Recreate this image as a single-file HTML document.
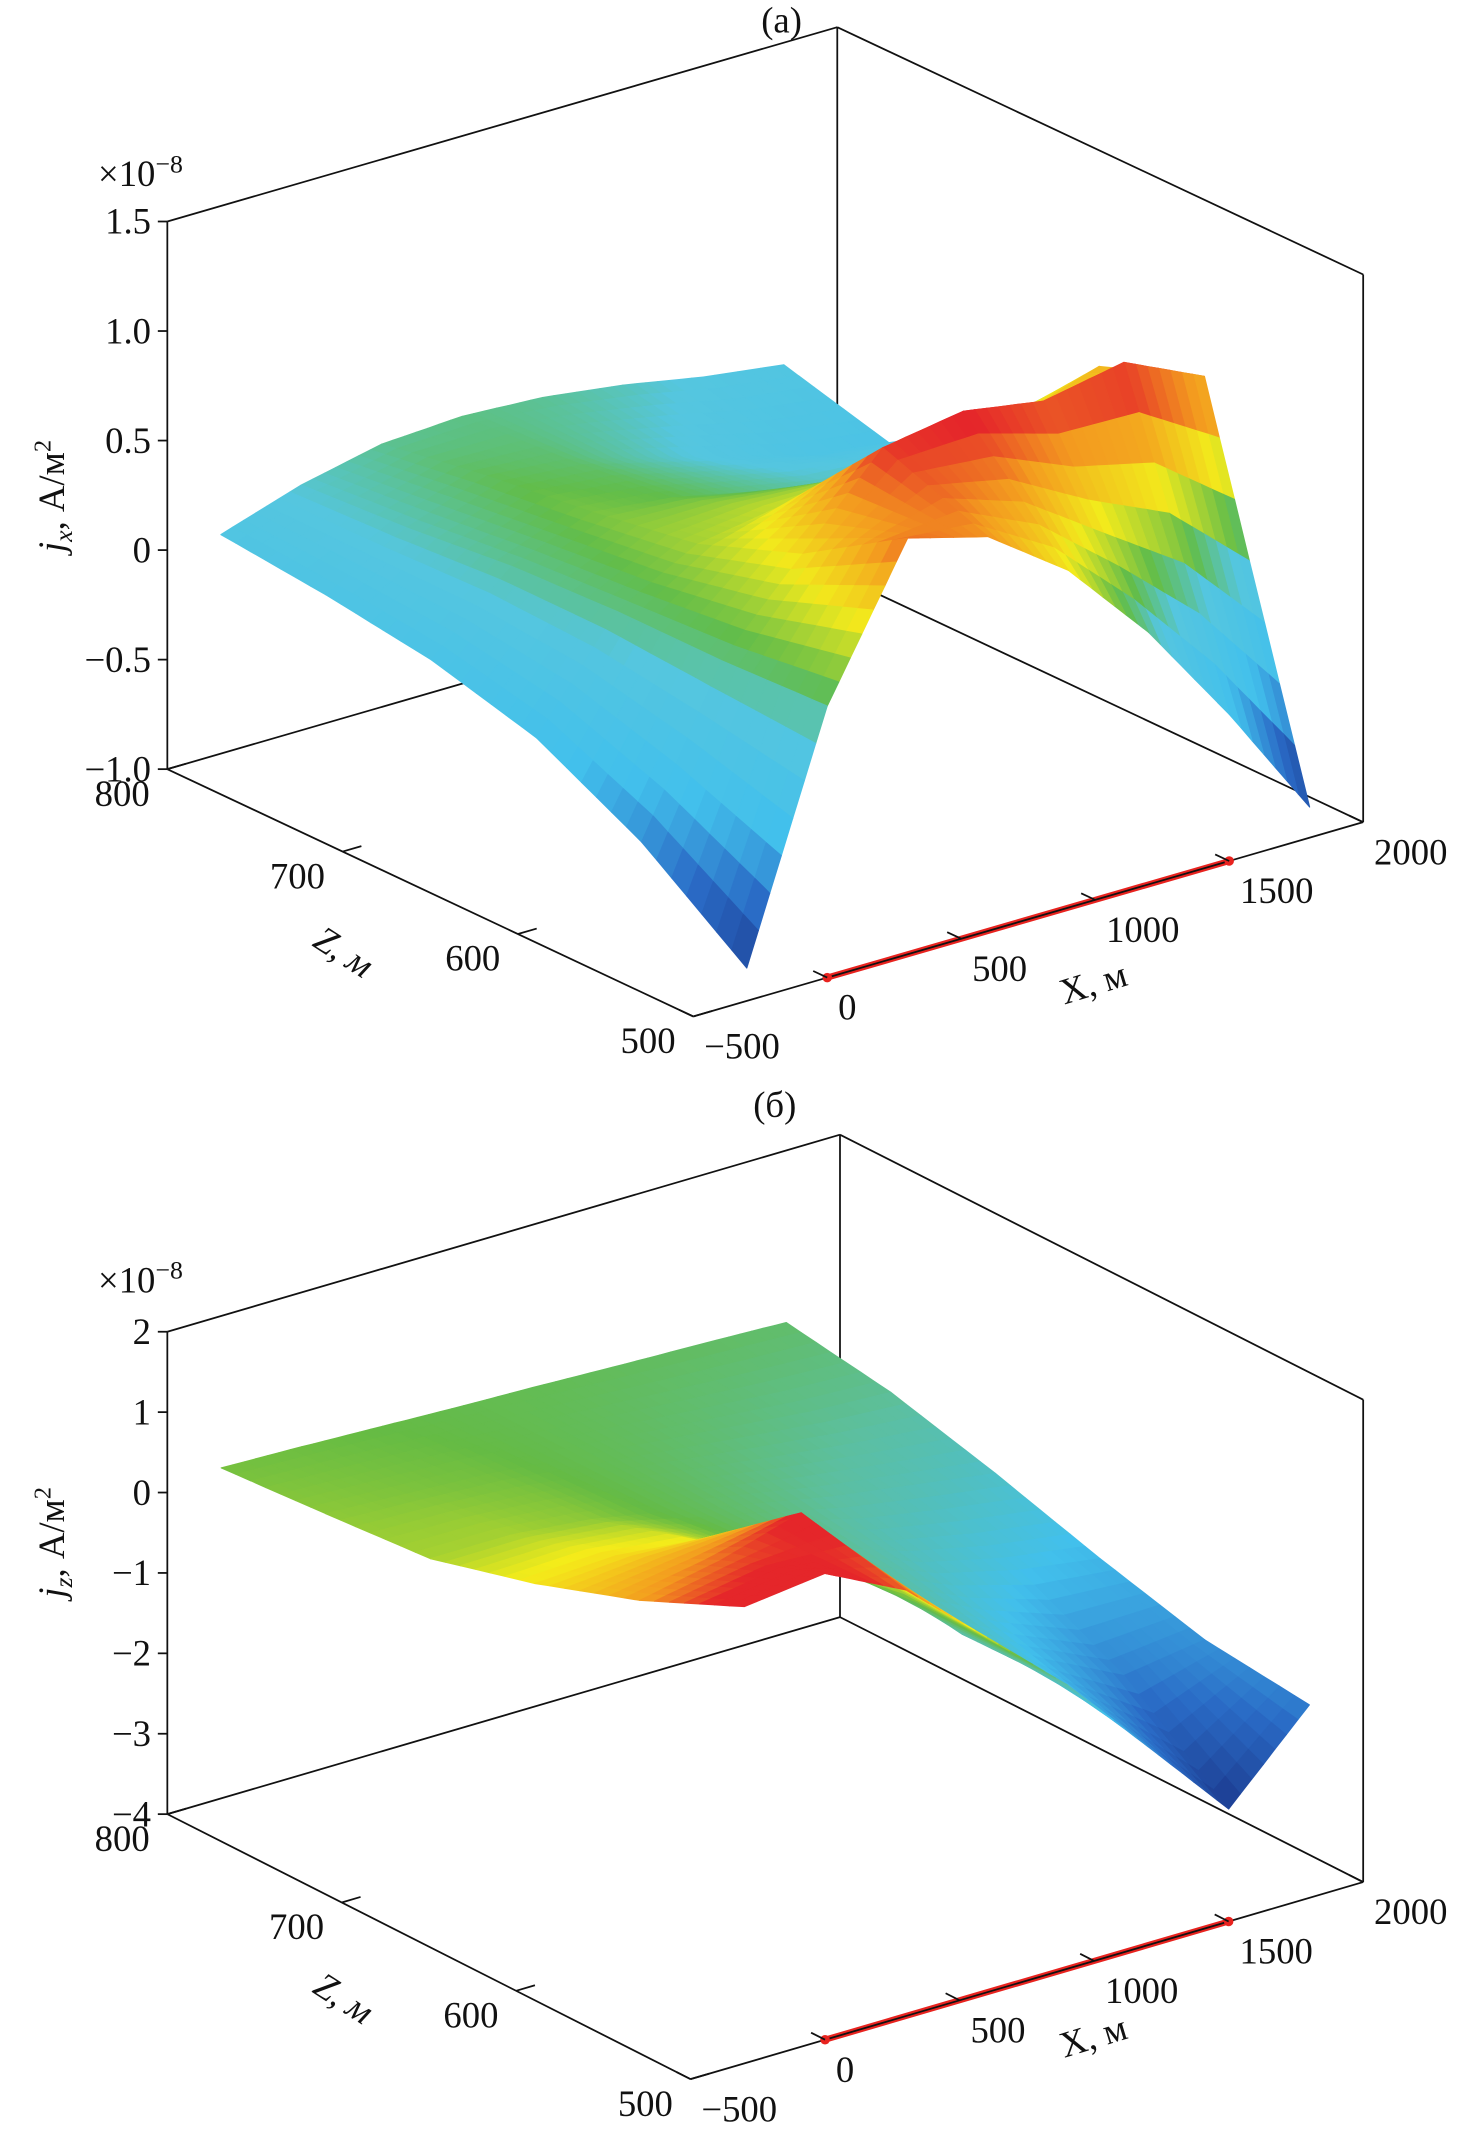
<!DOCTYPE html>
<html><head><meta charset="utf-8"><style>
html,body{margin:0;padding:0;background:#fff;}
svg{display:block;}
text{font-family:"Liberation Serif",serif;fill:#111;}
</style></head><body>
<svg id="fig" width="1468" height="2143" viewBox="0 0 1080 1577" xmlns="http://www.w3.org/2000/svg">
<g id="panelA"></g>
<g id="panelB"></g>
</svg>
<script>
// ---- data ----
const xCats = [-300, 0, 300, 600, 900, 1200, 1500, 1800];
const zCats = [800, 740, 680, 620, 560, 500];
const jxValues = [
  [0.00, 0.12, 0.20, 0.22, 0.20, 0.15, 0.08, 0.03],
  [-0.05, 0.15, 0.28, 0.25, 0.15, 0.05, -0.05, -0.10],
  [-0.12, 0.20, 0.34, 0.30, 0.22, 0.15, 0.15, 0.20],
  [-0.25, 0.22, 0.42, 0.48, 0.50, 0.50, 0.58, 0.70],
  [-0.50, 0.22, 0.60, 0.98, 1.04, 0.98, 1.05, 0.88],
  [-0.85, 0.24, 0.90, 0.80, 0.54, 0.15, -0.33, -0.86]
];
const jzValues = [
  [0.11, 0.08, 0.04, 0.00, -0.03, -0.07, -0.10, -0.14],
  [0.20, 0.15, 0.10, 0.00, -0.10, -0.20, -0.30, -0.35],
  [0.30, 0.30, 0.20, 0.00, -0.20, -0.40, -0.55, -0.70],
  [0.65, 0.70, 0.60, 0.10, -0.30, -0.70, -0.95, -1.10],
  [1.10, 1.30, 1.60, 0.50, -0.50, -1.10, -1.60, -1.45],
  [1.68, 1.80, 1.30, 0.42, -0.47, -1.53, -2.60, -1.60]
];
const jxTicks = [1.5, 1.0, 0.5, 0, -0.5, -1.0];
const jxTickLabels = ["1.5", "1.0", "0.5", "0", "\u22120.5", "\u22121.0"];
const jzTicks = [2, 1, 0, -1, -2, -3, -4];
const jzTickLabels = ["2", "1", "0", "\u22121", "\u22122", "\u22123", "\u22124"];
const zTicks = [800, 700, 600, 500];
const xTicks = [-500, 0, 500, 1000, 1500, 2000];
const xTickLabels = ["\u2212500", "0", "500", "1000", "1500", "2000"];
const sourceX = [0, 1500];
const sourceZ = 500;

const NS = "http://www.w3.org/2000/svg";
function mk(parent, tag, attrs){ const e=document.createElementNS(NS,tag); for(const k in attrs) e.setAttribute(k,attrs[k]); parent.appendChild(e); return e; }
function hex(c){return [parseInt(c.slice(1,3),16),parseInt(c.slice(3,5),16),parseInt(c.slice(5,7),16)];}
function cmap(stops, v){
  if(v<=stops[0][0]) return stops[0][1];
  for(let i=1;i<stops.length;i++){
    if(v<=stops[i][0]){
      const t=(v-stops[i-1][0])/(stops[i][0]-stops[i-1][0]);
      const a=hex(stops[i-1][1]), b=hex(stops[i][1]);
      return "rgb("+a.map((x,k)=>Math.round(x+(b[k]-x)*t)).join(",")+")";
    }
  }
  return stops[stops.length-1][1];
}

function drawPanel(g, cfg){
  const P = (X,Z,j)=>{
    const fx=(X-cfg.xMin)/(cfg.xMax-cfg.xMin), fz=(Z-cfg.zMin)/(cfg.zMax-cfg.zMin), fj=(j-cfg.jMin)/(cfg.jMax-cfg.jMin);
    return [cfg.o[0]+fx*cfg.xv[0]+fz*cfg.zv[0], cfg.o[1]+fx*cfg.xv[1]+fz*cfg.zv[1]-fj*cfg.h];
  };
  const L=(a,b,name)=>{ const e=mk(g,"line",{x1:a[0],y1:a[1],x2:b[0],y2:b[1],stroke:"#111","stroke-width":1.3});
    
     return e; };
  const {xMin,xMax,zMin,zMax,jMin,jMax}=cfg;
  L(P(xMin,zMax,jMin),P(xMax,zMax,jMin),"back-floor-edge-x");
  L(P(xMax,zMax,jMin),P(xMax,zMin,jMin),"back-floor-edge-z");
  L(P(xMax,zMax,jMin),P(xMax,zMax,jMax),"back-vertical-edge");
  L(P(xMin,zMax,jMax),P(xMax,zMax,jMax),"top-edge-x");
  L(P(xMax,zMax,jMax),P(xMax,zMin,jMax),"top-edge-z");
  L(P(xMin,zMax,jMin),P(xMin,zMax,jMax),"y-axis-line");
  L(P(xMax,zMin,jMin),P(xMax,zMin,jMax),"right-vertical-edge");
  L(P(xMin,zMax,jMin),P(xMin,zMin,jMin),"z-axis-line");
  L(P(xMin,zMin,jMin),P(xMax,zMin,jMin),"x-axis-line");

  const s0=P(sourceX[0],sourceZ,jMin), s1=P(sourceX[1],sourceZ,jMin);
  let e=mk(g,"line",{x1:s0[0],y1:s0[1],x2:s1[0],y2:s1[1],stroke:"#e8231f","stroke-width":4.5,"stroke-linecap":"round"});
  
  
  e=mk(g,"line",{x1:s0[0],y1:s0[1],x2:s1[0],y2:s1[1],stroke:"#111","stroke-width":1.3});
  
  
  [s0,s1].forEach(p=>{ const c=mk(g,"circle",{cx:p[0],cy:p[1],r:3.5,fill:"#e8231f"});
    
     });

  const vals=cfg.values, sub=7, cells=[];
  const nR=zCats.length, nC=xCats.length;
  for(let r=0;r<nR-1;r++) for(let c=0;c<nC-1;c++){
    for(let a=0;a<sub;a++) for(let b=0;b<sub;b++){
      const pts=[[a,b],[a+1,b],[a+1,b+1],[a,b+1]].map(([u,v])=>{
        const tu=u/sub, tv=v/sub;
        const X=xCats[c]+(xCats[c+1]-xCats[c])*tu, Z=zCats[r]+(zCats[r+1]-zCats[r])*tv;
        const j=vals[r][c]*(1-tu)*(1-tv)+vals[r][c+1]*tu*(1-tv)+vals[r+1][c]*(1-tu)*tv+vals[r+1][c+1]*tu*tv;
        return {X,Z,j};
      });
      const jm=(pts[0].j+pts[1].j+pts[2].j+pts[3].j)/4;
      const Xm=(pts[0].X+pts[2].X)/2, Zm=(pts[0].Z+pts[2].Z)/2;
      const depth=P(Xm,Zm,jMin)[1];
      cells.push({pts,jm,depth});
    }
  }
  cells.sort((p,q)=>p.depth-q.depth);
  const sg=mk(g,"g",{});
  
  
  cells.forEach(cl=>{
    const col=cmap(cfg.stops,cl.jm);
    const poly=mk(sg,"polygon",{points:cl.pts.map(p=>P(p.X,p.Z,p.j).map(v=>v.toFixed(1)).join(",")).join(" "),fill:col,stroke:col,"stroke-width":0.8,"stroke-linejoin":"round"});
    
    
  });

  cfg.ticks.forEach((t,i)=>{
    const p=P(xMin,zMax,t);
    let tl=mk(g,"line",{x1:p[0]-7,y1:p[1],x2:p[0],y2:p[1],stroke:"#111","stroke-width":1.3});
    
    
    const tx=mk(g,"text",{x:p[0]-12,y:p[1]+9,"text-anchor":"end","font-size":27});
    tx.textContent=cfg.tickLabels[i];
    
    
  });
  zTicks.forEach(z=>{
    const p=P(xMin,z,jMin), q=P(xMin+70,z,jMin);
    let tl=mk(g,"line",{x1:p[0],y1:p[1],x2:q[0],y2:q[1],stroke:"#111","stroke-width":1.3});
    
    
    const tx=mk(g,"text",{x:p[0]-13,y:p[1]+27,"text-anchor":"end","font-size":27});
    tx.textContent=String(z);
    
    
  });
  xTicks.forEach((x,i)=>{
    const p=P(x,zMin,jMin), q=P(x,zMin+8,jMin);
    let tl=mk(g,"line",{x1:p[0],y1:p[1],x2:q[0],y2:q[1],stroke:"#111","stroke-width":1.3});
    
    
    const tx=mk(g,"text",{x:p[0]+8,y:p[1]+31,"text-anchor":"start","font-size":27});
    tx.textContent=xTickLabels[i];
    
    
  });
}

const gA=document.getElementById("panelA"), gB=document.getElementById("panelB");
drawPanel(gA,{xMin:-500,xMax:2000,zMin:500,zMax:800,jMin:-1,jMax:1.5,o:[510,748],xv:[493,-143],zv:[-387,-182],h:403,
  values:jxValues,ticks:jxTicks,tickLabels:jxTickLabels,
  stops:[[-0.9,"#1c3a8e"],[-0.6,"#2a6bc6"],[-0.3,"#42c0ec"],[0.1,"#55c6df"],[0.3,"#62bd4a"],[0.55,"#f2ea1c"],[0.8,"#f39a1f"],[1.0,"#e5262a"]]});
drawPanel(gB,{xMin:-500,xMax:2000,zMin:500,zMax:800,jMin:-4,jMax:2,o:[508,1530],xv:[495,-145],zv:[-385,-195],h:355,
  values:jzValues,ticks:jzTicks,tickLabels:jzTickLabels,
  stops:[[-2.6,"#1c3a8e"],[-1.8,"#2a6bc6"],[-1.0,"#42c0ec"],[-0.4,"#5cbfa0"],[0.05,"#65bb44"],[0.6,"#f4ec1a"],[1.15,"#f39a1f"],[1.5,"#e5262a"]]});

function label(g,txt,x,y,attrs,name){ const t=mk(g,"text",Object.assign({x:x,y:y,"font-size":27},attrs||{})); t.innerHTML=txt;
  
   return t; }
label(gA,"(a)",575,24,{"text-anchor":"middle"},"panel-a-title");
label(gB,"(б)",570,822,{"text-anchor":"middle"},"panel-b-title");
label(gA,"×10<tspan dy='-10' font-size='19'>−8</tspan>",72,137,{},"y-scale-factor");
label(gB,"×10<tspan dy='-10' font-size='19'>−8</tspan>",72,951,{},"y-scale-factor");
label(gA,"<tspan font-style='italic'>j</tspan><tspan font-style='italic' font-size='19' dy='6'>x</tspan><tspan dy='-6'>, А/м</tspan><tspan font-size='18' dy='-10'>2</tspan>",0,0,{transform:"translate(47,365) rotate(-90)","text-anchor":"middle"},"y-axis-title");
label(gB,"<tspan font-style='italic'>j</tspan><tspan font-style='italic' font-size='19' dy='6'>z</tspan><tspan dy='-6'>, А/м</tspan><tspan font-size='18' dy='-10'>2</tspan>",0,0,{transform:"translate(47,1135) rotate(-90)","text-anchor":"middle"},"y-axis-title");
label(gA,"Z, м",0,0,{transform:"translate(248,708) rotate(33)","text-anchor":"middle","font-style":"italic"},"z-axis-title");
label(gB,"Z, м",0,0,{transform:"translate(248,1478) rotate(33)","text-anchor":"middle","font-style":"italic"},"z-axis-title");
label(gA,"X, м",0,0,{transform:"translate(807,732) rotate(-17)","text-anchor":"middle"},"x-axis-title");
label(gB,"X, м",0,0,{transform:"translate(807,1507) rotate(-17)","text-anchor":"middle"},"x-axis-title");
</script>
</body></html>
